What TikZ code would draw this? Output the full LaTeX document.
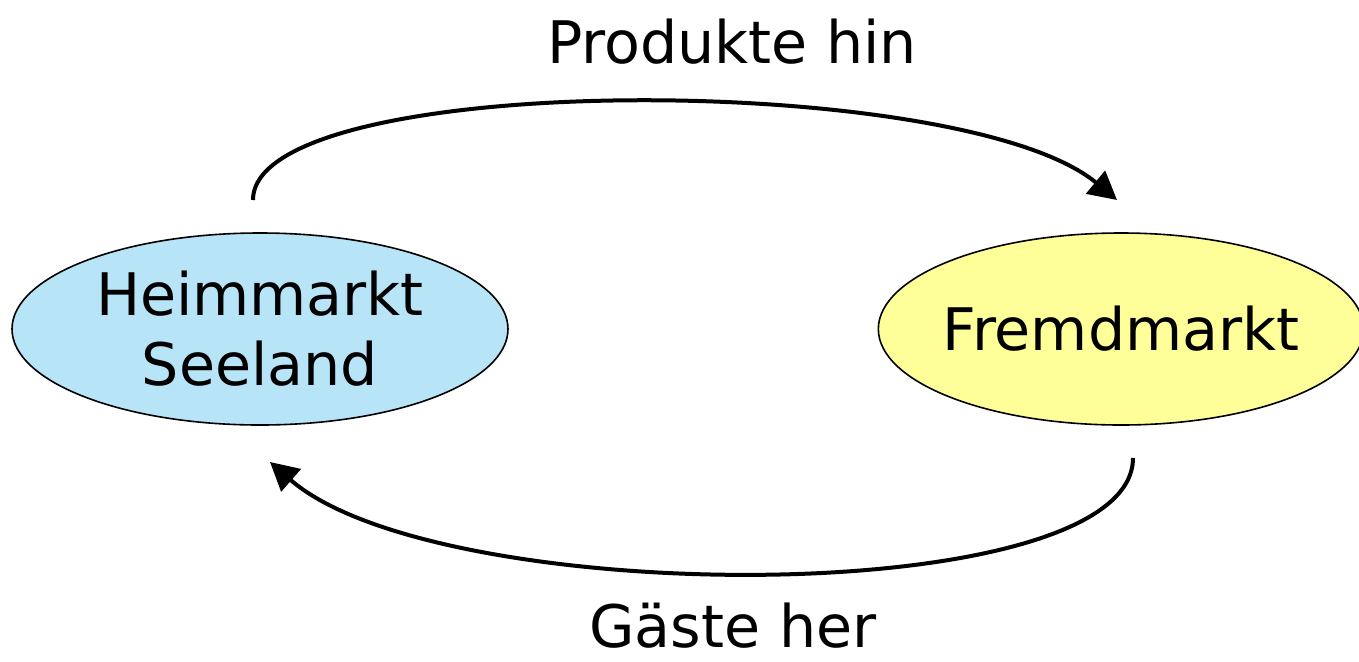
\documentclass[tikz,border=0pt]{standalone}
\usepackage{fontspec}
\setmainfont{DejaVu Sans}
\usetikzlibrary{arrows.meta,shapes.geometric}
\definecolor{heimblue}{HTML}{B8E4F8}
\definecolor{fremdyellow}{HTML}{FFFF99}
\tikzset{
  markt/.style={draw, ellipse, line width=1.2pt, inner sep=0pt, minimum width=372pt, minimum height=144pt, align=center, font=\fontsize{44}{52.5}\selectfont},
  fluss/.style={draw, line width=3pt, -{Triangle[length=21pt,width=22pt]}},
  lbl/.style={font=\fontsize{44}{52.5}\selectfont}
}
\begin{document}
\begin{tikzpicture}[x=0.75pt,y=-0.75pt]
\useasboundingbox (0,0) rectangle (1359,661);
\node[markt, fill=heimblue] (heim) at (260,329) {Heimmarkt\\Seeland};
\node[markt, fill=fremdyellow, minimum width=364pt, inner xsep=-8pt] (fremd) at (1121,329) {Fremdmarkt};

\coordinate (h1) at (253,200);
\coordinate (f1) at (1117,200);
\coordinate (f2) at (1133,458);
\coordinate (h2) at (270,462);

\node[lbl] (hin) at (732,42) {Produkte hin};
\node[lbl] (her) at (733,626) {Gäste her};

\path[fluss] (h1) .. controls (253,70) and (960,70) .. (f1);
\path[fluss] (f2) .. controls (1133,610) and (440,610) .. (h2);
\end{tikzpicture}
\end{document}
